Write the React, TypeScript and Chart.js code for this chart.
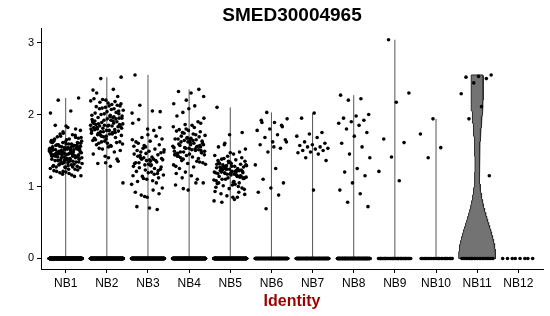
import React, { useEffect, useRef } from 'react';
import { Chart, registerables } from 'chart.js';

Chart.register(...registerables);

const chartTitle = 'SMED30004965';
const xAxisTitle = 'Identity';
const categories = ['NB1', 'NB2', 'NB3', 'NB4', 'NB5', 'NB6', 'NB7', 'NB8', 'NB9', 'NB10', 'NB11', 'NB12'];
const yTicks = [0, 1, 2, 3];

// number of cells with zero expression per identity
const zeroCounts = [700, 500, 400, 450, 420, 160, 150, 160, 40, 25, 22, 8];

// non-zero expression values per identity
const nb1 = [
  1.45, 1.52, 1.38, 1.61, 1.27, 1.49, 1.56, 1.33, 1.42, 1.68, 1.21, 1.47, 1.54, 1.36, 1.44, 1.59, 1.29, 1.51, 1.40, 1.63,
  1.18, 1.46, 1.55, 1.35, 1.43, 1.58, 1.31, 1.50, 1.39, 1.66, 1.24, 1.48, 1.53, 1.37, 1.41, 1.60, 1.26, 1.52, 1.44, 1.70,
  1.15, 1.45, 1.57, 1.34, 1.47, 1.62, 1.30, 1.49, 1.38, 1.65, 1.22, 1.43, 1.55, 1.32, 1.46, 1.58, 1.28, 1.51, 1.42, 1.72,
  1.19, 1.48, 1.54, 1.36, 1.40, 1.61, 1.25, 1.50, 1.45, 1.67, 1.20, 1.44, 1.56, 1.33, 1.47, 1.59, 1.27, 1.53, 1.41, 1.64,
  1.16, 1.46, 1.52, 1.37, 1.43, 1.57, 1.32, 1.49, 1.39, 1.69, 1.23, 1.45, 1.55, 1.35, 1.48, 1.60, 1.29, 1.51, 1.42, 1.74,
  1.13, 1.47, 1.58, 1.34, 1.44, 1.63, 1.31, 1.50, 1.40, 1.66, 1.21, 1.42, 1.54, 1.38, 1.46, 1.56, 1.26, 1.52, 1.43, 1.71,
  1.17, 1.49, 1.53, 1.36, 1.41, 1.62, 1.28, 1.48, 1.37, 1.68, 1.24, 1.46, 1.57, 1.33, 1.45, 1.59, 1.30, 1.55, 1.39, 1.65,
  1.14, 1.44, 1.51, 1.35, 1.47, 1.61, 1.27, 1.50, 1.42, 1.73,
  1.78, 1.82, 1.85, 1.80, 1.76, 2.02, 2.05, 2.20, 2.23, 1.84,
];
const nb2 = [
  1.85, 1.92, 1.74, 2.05, 1.66, 1.88, 1.97, 1.70, 1.81, 2.12, 1.58, 1.90, 2.01, 1.77, 1.84, 2.08, 1.62, 1.94, 1.79, 2.18,
  1.52, 1.87, 1.99, 1.72, 1.83, 2.10, 1.64, 1.91, 1.76, 2.15, 1.55, 1.86, 2.03, 1.69, 1.80, 2.07, 1.60, 1.95, 1.78, 2.22,
  1.48, 1.89, 1.98, 1.73, 1.82, 2.13, 1.63, 1.93, 1.75, 2.17, 1.50, 1.84, 2.02, 1.68, 1.81, 2.06, 1.57, 1.96, 1.77, 2.20,
  1.45, 1.88, 2.00, 1.71, 1.85, 2.11, 1.61, 1.92, 1.74, 2.14, 1.53, 1.86, 2.04, 1.67, 1.79, 2.09, 1.59, 1.97, 1.80, 2.25,
  1.42, 1.90, 1.96, 1.72, 1.83, 2.16, 1.65, 1.94, 1.76, 2.19, 1.56, 1.87, 2.01, 1.70, 1.82, 2.08, 1.62, 1.95, 1.78, 2.30,
  1.38, 1.85, 1.99, 1.73, 1.84, 2.12, 1.60, 1.91, 1.75, 2.21,
  1.05, 1.28, 1.32, 1.35, 1.33, 2.34, 2.35, 2.50, 2.52, 1.40,
];
const nb3 = [
  1.35, 1.42, 1.22, 1.55, 1.15, 1.38, 1.48, 1.27, 1.31, 1.62, 1.05, 1.40, 1.51, 1.20, 1.33, 1.58, 1.10, 1.45, 1.25, 1.68,
  0.98, 1.37, 1.50, 1.18, 1.30, 1.65, 1.08, 1.43, 1.24, 1.72, 0.92, 1.36, 1.53, 1.16, 1.29, 1.60, 1.12, 1.46, 1.28, 1.78,
  0.88, 1.39, 1.49, 1.21, 1.34, 1.57, 1.03, 1.41, 1.26, 1.82, 0.85, 1.32, 1.52, 1.14, 1.37, 1.63, 1.07, 1.44, 1.23, 1.88,
  0.95, 1.40, 1.47, 1.19, 1.33, 1.70, 1.11, 1.48, 1.30, 1.93, 0.90, 1.36, 1.56, 1.17, 1.38, 1.66,
  0.70, 0.72, 0.68, 0.86, 2.02, 2.05, 2.13, 2.04, 1.80, 2.55,
];
const nb4 = [
  1.55, 1.62, 1.45, 1.72, 1.38, 1.58, 1.67, 1.42, 1.51, 1.80, 1.30, 1.60, 1.70, 1.47, 1.53, 1.77, 1.35, 1.64, 1.49, 1.85,
  1.25, 1.57, 1.68, 1.44, 1.52, 1.75, 1.33, 1.61, 1.46, 1.90, 1.20, 1.56, 1.73, 1.40, 1.50, 1.78, 1.28, 1.65, 1.48, 1.95,
  1.15, 1.59, 1.69, 1.43, 1.54, 1.82, 1.36, 1.63, 1.45, 1.98, 1.10, 1.54, 1.71, 1.41, 1.57, 1.76, 1.32, 1.66, 1.50, 2.03,
  1.05, 1.58, 1.66, 1.39, 1.53, 1.83, 1.27, 1.62, 1.47, 2.08, 1.18, 1.55, 1.74, 1.44, 1.51, 1.79, 1.34, 1.67, 1.49, 2.12,
  1.12, 1.60, 1.65, 1.42, 1.56, 1.86, 1.31, 1.64, 1.48, 1.88,
  0.95, 1.02, 1.05, 0.97, 2.25, 2.30, 2.32, 2.35, 2.20, 2.15,
];
const nb5 = [
  1.20, 1.25, 1.12, 1.32, 1.05, 1.22, 1.29, 1.09, 1.17, 1.38, 0.98, 1.24, 1.31, 1.14, 1.19, 1.35, 1.02, 1.27, 1.15, 1.42,
  0.93, 1.21, 1.30, 1.11, 1.18, 1.36, 1.00, 1.26, 1.13, 1.45, 0.90, 1.23, 1.33, 1.08, 1.16, 1.39, 0.96, 1.28, 1.14, 1.48,
  0.87, 1.20, 1.28, 1.10, 1.21, 1.34, 1.04, 1.25, 1.18, 1.52, 0.85, 1.22, 1.31, 1.12, 1.19, 1.37, 1.01, 1.27, 1.16, 1.55,
  0.92, 1.24, 1.29, 1.07, 1.20, 1.40, 0.97, 1.26, 1.15, 1.58, 0.89, 1.21, 1.32, 1.13, 1.17, 1.43, 1.03, 1.23, 1.19, 1.47,
  1.18, 1.23, 1.10, 1.30, 1.06, 1.26, 1.14, 1.35, 0.99, 1.22, 1.28, 1.11, 1.20, 1.33, 1.05, 1.24,
  0.80, 0.82, 0.78, 1.75, 1.72, 2.10, 0.85, 1.60,
];
const nb6 = [2.03, 1.94, 1.89, 1.89, 1.83, 1.80, 1.78, 1.72, 1.68, 1.65, 1.62, 1.58, 1.53, 1.48, 1.30, 1.25, 1.10, 1.05, 0.98, 0.92, 0.88, 0.69, 1.62, 1.55, 1.92, 1.85];
const nb7 = [2.02, 1.95, 1.75, 1.73, 1.70, 1.68, 1.62, 1.60, 1.58, 1.57, 1.55, 1.55, 1.53, 1.52, 1.50, 1.50, 1.48, 1.47, 1.45, 1.40, 1.36, 0.95];
const nb8 = [2.27, 2.22, 2.20, 2.00, 1.98, 1.95, 1.92, 1.90, 1.88, 1.85, 1.80, 1.75, 1.70, 1.60, 1.55, 1.45, 1.40, 1.25, 1.20, 1.15, 1.05, 0.95, 0.90, 0.78, 0.72];
const nb9 = [3.04, 2.30, 2.17, 1.66, 1.61, 1.41, 1.21, 1.08];
const nb10 = [1.94, 1.73, 1.54, 1.40];
const nb11 = [2.55, 2.53, 2.52, 2.50, 2.44, 2.29, 2.11, 1.94, 1.15];
const nb12: number[] = [];

const expressed = [nb1, nb2, nb3, nb4, nb5, nb6, nb7, nb8, nb9, nb10, nb11, nb12];

const FONT = "'Liberation Sans', Arial, Helvetica, sans-serif";

function quantile(sorted: number[], p: number) {
  const h = (sorted.length - 1) * p;
  const lo = Math.floor(h);
  const hi = Math.min(lo + 1, sorted.length - 1);
  return sorted[lo] + (h - lo) * (sorted[hi] - sorted[lo]);
}

function bwNrd0(x: number[]) {
  const n = x.length;
  const mean = x.reduce((a, b) => a + b, 0) / n;
  const sd = Math.sqrt(x.reduce((a, b) => a + (b - mean) * (b - mean), 0) / (n - 1));
  const s = [...x].sort((a, b) => a - b);
  const iqr = quantile(s, 0.75) - quantile(s, 0.25);
  let lo = Math.min(sd, iqr / 1.34);
  if (!(lo > 0)) lo = sd || 1;
  return 0.9 * lo * Math.pow(n, -0.2);
}

function groupValues(g: number) {
  const zeros = new Array(zeroCounts[g]).fill(0);
  return [...zeros, ...expressed[g]];
}

function violinPoints(g: number) {
  const vals = groupValues(g);
  const s = [...vals].sort((a, b) => a - b);
  const mn = s[0];
  const mx = s[s.length - 1];
  if (!(mx > mn)) return null;
  const iqr = quantile(s, 0.75) - quantile(s, 0.25);
  if (!(iqr > 0)) {
    // zero-dominated group: violin collapses to a thin line
    return { thin: true, pts: [{ x: g, y: mn }, { x: g, y: mx }] };
  }
  const bw = bwNrd0(vals);
  const N = 256;
  const ys: number[] = [];
  const ds: number[] = [];
  for (let j = 0; j < N; j++) {
    const y = mn + ((mx - mn) * j) / (N - 1);
    let d = 0;
    for (const v of vals) {
      const z = (y - v) / bw;
      d += Math.exp(-0.5 * z * z);
    }
    ys.push(y);
    ds.push(d);
  }
  const dmax = Math.max(...ds);
  const left = ys.map((y, j) => ({ x: g - (0.45 * ds[j]) / dmax, y }));
  const right = ys.map((y, j) => ({ x: g + (0.45 * ds[j]) / dmax, y })).reverse();
  return { thin: false, pts: [...left, ...right, left[0]] };
}

function jitter(k: number, g: number) {
  const f = ((k + 1) * 0.6180339887 + g * 0.371) % 1;
  return (f - 0.5) * 0.8;
}

export default function App() {
  const ref = useRef<HTMLCanvasElement | null>(null);

  useEffect(() => {
    if (!ref.current) return;
    const points: { x: number; y: number }[] = [];
    categories.forEach((_, g) => {
      groupValues(g).forEach((v, k) => points.push({ x: g + jitter(k, g), y: v }));
    });

    const violinSets: any[] = [];
    categories.forEach((_, g) => {
      const v = violinPoints(g);
      if (!v) return;
      violinSets.push({
        type: 'line',
        data: v.pts,
        borderColor: v.thin ? '#555555' : '#2b2b2b',
        borderWidth: 1,
        backgroundColor: '#737373',
        fill: v.thin ? false : 'shape',
        pointRadius: 0,
        tension: 0,
        order: 2,
      });
    });

    const chart = new Chart(ref.current, {
      type: 'scatter',
      data: {
        datasets: [
          {
            type: 'scatter',
            data: points,
            pointRadius: 1.8,
            pointBackgroundColor: '#000000',
            pointBorderWidth: 0,
            pointHoverRadius: 1.8,
            order: 1,
          } as any,
          ...violinSets,
        ],
      },
      options: {
        animation: false,
        responsive: false,
        devicePixelRatio: 1,
        layout: { padding: { left: 0, right: 7, top: 0, bottom: 0 } },
        plugins: {
          legend: { display: false },
          tooltip: { enabled: false },
          title: {
            display: true,
            text: chartTitle,
            fullSize: false,
            color: '#000000',
            font: { family: FONT, size: 19, weight: 'bold' },
            padding: { top: 4, bottom: 2 },
          },
        },
        scales: {
          x: {
            type: 'linear',
            min: -0.6,
            max: 11.6,
            afterBuildTicks: (s: any) => {
              s.ticks = categories.map((_, i) => ({ value: i }));
            },
            afterFit: (s: any) => {
              s.height = 47;
            },
            ticks: {
              autoSkip: false,
              maxRotation: 0,
              padding: 3,
              color: '#000000',
              font: { family: FONT, size: 12 },
              callback: (_v: any, i: number) => categories[i],
            },
            grid: { drawOnChartArea: false, drawTicks: true, tickLength: 4, color: '#000000', lineWidth: 1 },
            border: { display: true, color: '#000000', width: 1 },
            title: {
              display: true,
              text: xAxisTitle,
              color: '#9b0000',
              font: { family: FONT, size: 16, weight: 'bold' },
              padding: { top: 6, bottom: 5 },
            },
          },
          y: {
            type: 'linear',
            min: -0.147,
            max: 3.192,
            afterBuildTicks: (s: any) => {
              s.ticks = yTicks.map((v) => ({ value: v }));
            },
            afterFit: (s: any) => {
              s.width = 41;
            },
            ticks: {
              padding: 3,
              color: '#000000',
              font: { family: FONT, size: 11 },
            },
            grid: { drawOnChartArea: false, drawTicks: true, tickLength: 4, color: '#000000', lineWidth: 1 },
            border: { display: true, color: '#000000', width: 1 },
          },
        },
      } as any,
    });
    return () => chart.destroy();
  }, []);

  return (
    <div style={{ position: 'fixed', left: 0, top: 0, width: 550, height: 316, background: '#ffffff' }}>
      <canvas ref={ref} width={550} height={316} style={{ display: 'block' }} />
    </div>
  );
}
